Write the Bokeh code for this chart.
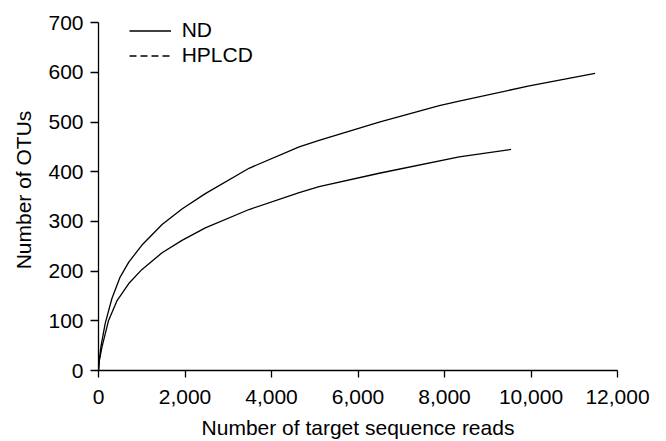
from bokeh.plotting import figure
from bokeh.models import Range1d, FixedTicker, NumeralTickFormatter, Legend, LegendItem, ColumnDataSource
from bokeh.embed import file_html
from bokeh.resources import INLINE

# ---- data ----
nd_reads = [0, 15, 60, 155, 310, 500, 700, 1000, 1470, 1930, 2470, 3480, 4640, 5100, 6490, 7880, 8340, 9960, 11480]
nd_otus = [0, 20, 50, 95, 145, 188, 218, 252, 294, 325, 356, 407, 450, 463, 500, 533, 542, 573, 598]

hplcd_reads = [0, 20, 80, 230, 425, 700, 1000, 1470, 1930, 2470, 3480, 4640, 5100, 6490, 8340, 9540]
hplcd_otus = [0, 20, 47, 100, 140, 175, 203, 237, 262, 287, 324, 358, 370, 397, 430, 445]

x_ticks = [0, 2000, 4000, 6000, 8000, 10000, 12000]
y_ticks = [0, 100, 200, 300, 400, 500, 600, 700]
series_names = ["ND", "HPLCD"]

FONT = "Liberation Sans"

p = figure(width=660, height=441, output_backend="svg", toolbar_location=None,
           x_range=Range1d(0, 12000), y_range=Range1d(0, 726.6),
           min_border_left=98, min_border_right=43, min_border_top=9, min_border_bottom=69)
p.outline_line_color = None
p.xgrid.visible = False
p.ygrid.visible = False

nd_src = ColumnDataSource(dict(x=nd_reads, y=nd_otus))
hp_src = ColumnDataSource(dict(x=hplcd_reads, y=hplcd_otus))
r_nd = p.line("x", "y", source=nd_src, line_color="black", line_width=1.3, line_join="round")
r_hp = p.line("x", "y", source=hp_src, line_color="black", line_width=1.3, line_join="round")
# legend-only dashed sample for HPLCD (no visible data)
r_hp_leg = p.line(x=[float("nan")], y=[float("nan")], line_color="black", line_width=1.3, line_dash="7 4")

for ax in (p.xaxis[0], p.yaxis[0]):
    ax.axis_line_color = "black"
    ax.axis_line_width = 1.3
    ax.major_tick_line_color = "black"
    ax.major_tick_line_width = 1.3
    ax.minor_tick_line_color = None
    ax.major_tick_in = 0
    ax.major_label_text_font = FONT
    ax.major_label_text_font_size = "21px"
    ax.major_label_text_color = "black"
    ax.axis_label_text_font = FONT
    ax.axis_label_text_font_size = "21px"
    ax.axis_label_text_font_style = "normal"
    ax.axis_label_text_color = "black"

p.xaxis[0].ticker = FixedTicker(ticks=x_ticks)
p.xaxis[0].formatter = NumeralTickFormatter(format="0,0")
p.xaxis[0].major_tick_out = 7
p.xaxis[0].major_label_standoff = 12
p.xaxis[0].axis_label = "Number of target sequence reads"
p.xaxis[0].axis_label_standoff = 9

p.yaxis[0].ticker = FixedTicker(ticks=y_ticks)
p.yaxis[0].bounds = (0, 700)
p.yaxis[0].major_tick_out = 8
p.yaxis[0].major_label_standoff = 7
p.yaxis[0].axis_label = "Number of OTUs"
p.yaxis[0].axis_label_standoff = 10

legend = Legend(items=[LegendItem(label=series_names[0], renderers=[r_nd]),
                       LegendItem(label=series_names[1], renderers=[r_hp_leg])],
                location=(30.7, 302.5), border_line_color=None, background_fill_alpha=0,
                padding=0, margin=0, spacing=0, glyph_width=42, glyph_height=25,
                label_height=25, label_standoff=11,
                label_text_font=FONT, label_text_font_size="21px", label_text_color="black")
p.add_layout(legend, "center")

open("out.html", "w").write(file_html(p, INLINE))
